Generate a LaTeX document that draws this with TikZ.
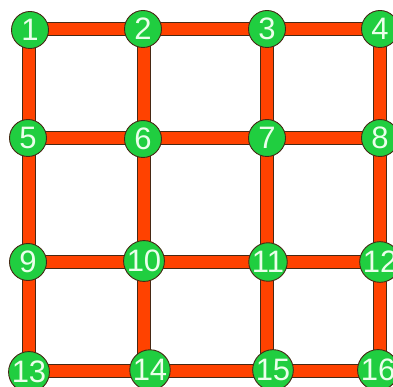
\documentclass[tikz,border=0pt]{standalone}
\usepackage{fontspec}
\setmainfont{Liberation Sans}
\definecolor{edgeorange}{RGB}{255,66,0}
\definecolor{nodegreen}{RGB}{32,206,64}
\definecolor{outline}{RGB}{70,40,20}
\definecolor{labelwhite}{RGB}{235,255,235}
\begin{document}
\begin{tikzpicture}[x=1pt,y=-1pt,
  vert/.style={circle,fill=nodegreen,draw=outline,line width=0.9pt,minimum size=37pt,inner sep=0pt,text=labelwhite,font=\fontsize{31}{31}\selectfont},
  link/.style={draw=outline,line width=0.9pt,double=edgeorange,double distance=11.5pt}]
\useasboundingbox (0,0) rectangle (393,387);
\clip (0,0) rectangle (393,387);
\fill[white] (0,0) rectangle (393,387);
% grid coordinates for the connectors
\foreach \i/\x/\y in {1/29/29,2/144/29,3/267/29,4/380/29,
                      5/29/138,6/144/138,7/267/138,8/380/138,
                      9/29/262,10/144/262,11/267/262,12/380/262,
                      13/29/371,14/144/371,15/267/371,16/380/371}
  \coordinate (p\i) at (\x,\y);
\foreach \a/\b in {1/2,2/3,3/4,5/6,6/7,7/8,9/10,10/11,11/12,13/14,14/15,15/16,1/5,5/9,9/13,2/6,6/10,10/14,3/7,7/11,11/15,4/8,8/12,12/16}
  \draw[link] (p\a) -- (p\b);
% nodes
\foreach \i/\x/\y in {1/30/30,2/143/29,3/267/29,4/380/29,
                      5/28/138,6/143/139,7/267/138,8/380/138,
                      9/28/262,10/144/261,11/268/262,12/380/262,
                      13/29/372,14/150/370,15/273/370,16/378/370}
  \node[vert] (n\i) at (\x,\y) {\i};
\end{tikzpicture}
\end{document}
